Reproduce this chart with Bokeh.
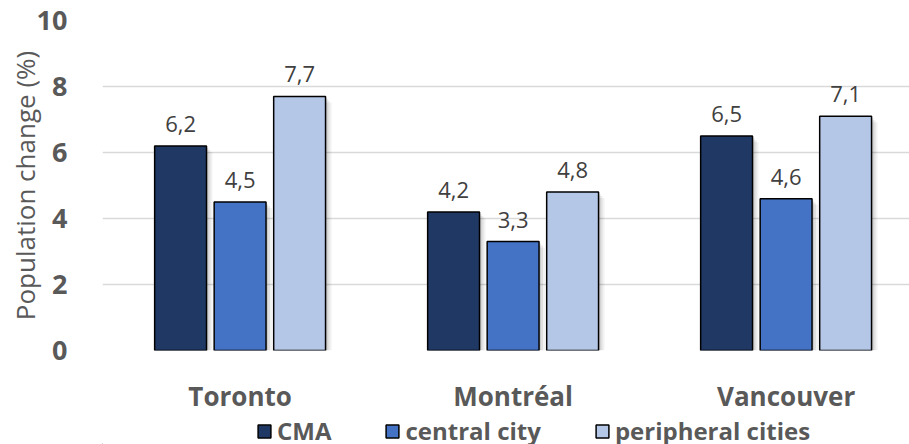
from bokeh.plotting import figure
from bokeh.layouts import column
from bokeh.models import (ColumnDataSource, FixedTicker, Legend, LegendItem,
                          LabelSet, Range1d)
from bokeh.core.properties import value
from bokeh.embed import file_html
from bokeh.resources import INLINE

# Population change by metropolitan area
cities = ["Toronto", "Montréal", "Vancouver"]
series = ["CMA", "central city", "peripheral cities"]
cma = [6.2, 4.2, 6.5]
central = [4.5, 3.3, 4.6]
peripheral = [7.7, 4.8, 7.1]
y_ticks = [0, 2, 4, 6, 8, 10]

colors = ["#203864", "#4472C4", "#B4C7E7"]
offsets = [-0.218, 0.0, 0.218]
bar_w = 0.19
FONT = "Open Sans"
GREY = "#595959"

p = figure(width=909, height=416, output_backend="svg", toolbar_location=None,
           x_range=Range1d(-0.004, 2.952), y_range=Range1d(0, 10),
           min_border_left=102, min_border_right=0, min_border_top=20,
           min_border_bottom=66)
p.outline_line_color = None
p.background_fill_color = "white"
p.border_fill_color = "white"

# grid
p.xgrid.grid_line_color = None
p.ygrid.grid_line_color = "#D9D9D9"
p.ygrid.grid_line_width = 1.5
p.ygrid.ticker = FixedTicker(ticks=y_ticks)

# y axis
p.yaxis.ticker = FixedTicker(ticks=y_ticks)
p.yaxis.axis_line_color = None
p.yaxis.major_tick_line_color = None
p.yaxis.minor_tick_line_color = None
p.yaxis.major_label_text_font = FONT
p.yaxis.major_label_text_font_style = "bold"
p.yaxis.major_label_text_font_size = "27px"
p.yaxis.major_label_text_color = GREY
p.yaxis.major_label_standoff = 29
p.yaxis.axis_label = "Population change (%)"
p.yaxis.axis_label_text_font = FONT
p.yaxis.axis_label_text_font_style = "normal"
p.yaxis.axis_label_text_font_size = "26px"
p.yaxis.axis_label_text_color = GREY
p.yaxis.axis_label_standoff = -9

# x axis with city names
xpos = [i + 0.5 for i in range(len(cities))]
p.xaxis.ticker = FixedTicker(ticks=xpos)
p.xaxis.major_label_overrides = {x: c for x, c in zip(xpos, cities)}
p.xaxis.axis_line_color = None
p.xaxis.major_tick_line_color = None
p.xaxis.minor_tick_line_color = None
p.xaxis.major_label_text_font = FONT
p.xaxis.major_label_text_font_style = "bold"
p.xaxis.major_label_text_font_size = "26px"
p.xaxis.major_label_text_color = GREY
p.xaxis.major_label_standoff = 21

px_x = 1 / 273.0
px_y = 10 / 330.0

for vals, col, off in zip([cma, central, peripheral], colors, offsets):
    centers = [x + off for x in xpos]
    src = ColumnDataSource(dict(x=centers, top=vals,
                                label=[f"{v:.1f}".replace(".", ",") for v in vals]))
    # soft drop shadow
    for k, a in [(6, 0.05), (4, 0.07), (2, 0.10)]:
        p.quad(left=[c - bar_w / 2 + k * px_x for c in centers],
               right=[c + bar_w / 2 + k * px_x for c in centers],
               top=[v - k * px_y for v in vals], bottom=0,
               fill_color="#000000", fill_alpha=a, line_color=None)
    p.vbar(x="x", top="top", width=bar_w, bottom=0, source=src,
           fill_color=col, line_color="#000000", line_width=1.5)
    p.add_layout(LabelSet(x="x", y="top", text="label", source=src,
                          x_offset=0, y_offset=14, text_align="center",
                          text_baseline="bottom", text_font=value(FONT),
                          text_font_size="22px", text_color="#404040"))

# legend strip under the chart (its frame lines up with the chart frame)
lg = figure(width=909, height=28, output_backend="svg", toolbar_location=None,
            x_range=Range1d(0, 909), y_range=Range1d(0, 28),
            x_axis_location=None, y_axis_location=None,
            min_border=0, outline_line_color=None)
lg.grid.visible = False
items = []
for col, name in zip(colors, series):
    # swatch renderers sit far outside the visible range; only their legend glyphs show
    r = lg.vbar(x=[-5000], top=[0], width=1, fill_color=col,
                line_color="#000000", line_width=1.5)
    items.append(LegendItem(label=name, renderers=[r]))

legend = Legend(items=items, orientation="horizontal", location=(154, -3),
                label_text_font=FONT, label_text_font_style="bold",
                label_text_font_size="24px", label_text_color=GREY,
                glyph_width=16, glyph_height=16, spacing=53,
                border_line_color=None, background_fill_alpha=0,
                padding=0, margin=0, label_standoff=5)
lg.add_layout(legend, "center")

layout = column(p, lg, spacing=0)
open("out.html", "w").write(file_html(layout, INLINE))
